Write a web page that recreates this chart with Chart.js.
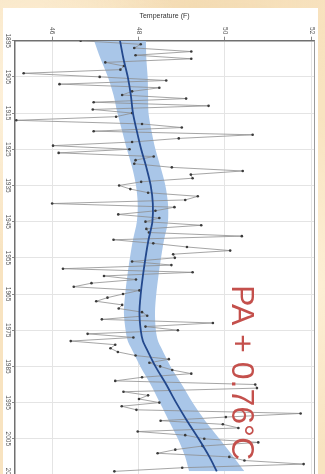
<!DOCTYPE html>
<html>
<head>
<meta charset="utf-8">
<script src="https://cdn.jsdelivr.net/npm/chart.js@4.4.1/dist/chart.umd.min.js"></script>
<style>
  html, body { margin: 0; padding: 0; width: 325px; height: 474px; overflow: hidden; }
  body {
    background:
      radial-gradient(circle at 10% 20%, rgba(255, 246, 228, 0.8), rgba(255, 246, 228, 0) 35%),
      radial-gradient(circle at 95% 60%, rgba(255, 244, 222, 0.7), rgba(255, 244, 222, 0) 40%),
      radial-gradient(circle at 60% 2%, rgba(240, 214, 170, 0.6), rgba(240, 214, 170, 0) 30%),
      #f8e3c0;
  }
  #panel { position: absolute; left: 3px; top: 8px; width: 315px; height: 490px; background: #fff; }
  canvas { display: block; }
</style>
</head>
<body>
<div id="panel"><canvas id="chart" width="315" height="490"></canvas></div>
<script>
// Annual mean temperature, Pennsylvania (°F)
const years = [
  1895,1896,1897,1898,1899,1900,1901,1902,1903,1904,1905,1906,1907,1908,1909,1910,1911,1912,1913,1914,
  1915,1916,1917,1918,1919,1920,1921,1922,1923,1924,1925,1926,1927,1928,1929,1930,1931,1932,1933,1934,
  1935,1936,1937,1938,1939,1940,1941,1942,1943,1944,1945,1946,1947,1948,1949,1950,1951,1952,1953,1954,
  1955,1956,1957,1958,1959,1960,1961,1962,1963,1964,1965,1966,1967,1968,1969,1970,1971,1972,1973,1974,
  1975,1976,1977,1978,1979,1980,1981,1982,1983,1984,1985,1986,1987,1988,1989,1990,1991,1992,1993,1994,
  1995,1996,1997,1998,1999,2000,2001,2002,2003,2004,2005,2006,2007,2008,2009,2010,2011,2012,2013,2014
];
const annualTemp = [
  46.66,48.05,47.90,49.22,47.93,49.22,47.23,47.66,47.58,45.34,47.10,48.64,46.17,48.48,47.85,47.62,49.10,46.96,49.62,46.94,
  47.85,47.48,45.17,48.08,49.00,46.96,50.64,48.93,47.85,46.02,47.79,46.15,48.35,47.93,47.90,48.77,50.41,49.21,49.25,48.06,
  47.55,47.81,48.22,49.37,49.08,46.00,48.83,48.39,47.53,48.48,48.16,49.45,48.18,48.24,50.39,47.42,48.34,49.12,50.12,48.80,
  48.84,47.85,48.76,46.25,49.25,47.20,47.94,46.91,46.50,48.02,47.64,47.28,47.02,47.62,47.54,48.08,48.20,47.15,49.72,48.16,
  48.91,46.82,47.88,46.43,47.46,47.35,47.52,47.93,48.70,48.25,48.50,48.78,49.22,48.08,47.46,50.70,50.74,47.65,48.22,48.01,
  48.48,47.61,47.95,51.75,50.02,48.51,49.95,50.31,47.98,49.08,49.52,50.77,49.48,48.85,48.44,50.10,50.45,51.82,49.01,47.44
];

// Smoothed trend and its confidence band
const fitYears = [1895,1900,1905,1910,1915,1920,1925,1930,1935,1940,1945,1950,1955,1960,1965,1970,1975,1978,1980,1985,1990,1995,2000,2005,2010,2014];
const fitTemp  = [47.57,47.65,47.75,47.82,47.87,47.96,48.06,48.18,48.28,48.33,48.32,48.23,48.16,48.10,48.05,48.02,48.05,48.10,48.18,48.39,48.64,48.87,49.12,49.39,49.64,49.81];
const bandUpper = [48.17,48.18,48.21,48.22,48.23,48.30,48.39,48.51,48.62,48.68,48.68,48.59,48.52,48.46,48.41,48.38,48.40,48.45,48.53,48.74,49.00,49.25,49.54,49.87,50.20,50.45];
const bandLower = [46.97,47.12,47.29,47.42,47.51,47.62,47.73,47.85,47.94,47.98,47.96,47.87,47.80,47.74,47.69,47.66,47.70,47.75,47.83,48.04,48.28,48.49,48.70,48.91,49.08,49.17];

const yearTicks = [1895,1905,1915,1925,1935,1945,1955,1965,1975,1985,1995,2005,2015];
const tempTicks = [46,48,50,52];
const changeLabel = 'PA + 0.76°C';

const FONT = "'Liberation Sans', Arial, sans-serif";

function toPoints(temps, yrs) {
  return yrs.map((y, i) => ({ x: temps[i], y: y }));
}

// Temperature tick labels, turned to read top-to-bottom
const tempTickLabels = {
  id: 'tempTickLabels',
  afterDraw(chart) {
    const s = chart.scales.x;
    const ctx = chart.ctx;
    ctx.save();
    ctx.fillStyle = '#555';
    ctx.font = '6.5px ' + FONT;
    ctx.textAlign = 'center';
    ctx.textBaseline = 'middle';
    s.ticks.forEach(t => {
      ctx.save();
      ctx.translate(s.getPixelForValue(t.value), s.bottom - 10);
      ctx.rotate(Math.PI / 2);
      ctx.fillText(String(t.value), 0, 0);
      ctx.restore();
    });
    ctx.restore();
  }
};

// Frame line on the far side of the plot
const plotFrame = {
  id: 'plotFrame',
  beforeDatasetsDraw(chart) {
    const a = chart.chartArea;
    const ctx = chart.ctx;
    ctx.save();
    ctx.strokeStyle = '#9a9a9a';
    ctx.lineWidth = 1;
    ctx.beginPath();
    ctx.moveTo(a.right + 0.5, a.top);
    ctx.lineTo(a.right + 0.5, a.bottom);
    ctx.stroke();
    ctx.restore();
  }
};

// Overall change caption
const changeCaption = {
  id: 'changeCaption',
  afterDraw(chart) {
    const ctx = chart.ctx;
    ctx.save();
    ctx.translate(240.5, 364.5);
    ctx.rotate(Math.PI / 2);
    ctx.fillStyle = '#c4504c';
    ctx.font = '32px ' + FONT;
    ctx.textAlign = 'center';
    ctx.textBaseline = 'alphabetic';
    ctx.fillText(changeLabel, 0, 11.5);
    ctx.restore();
  }
};

new Chart(document.getElementById('chart'), {
  type: 'line',
  data: {
    datasets: [
      {
        label: 'Trend',
        data: toPoints(fitTemp, fitYears),
        borderColor: '#23488c',
        borderWidth: 1.8,
        pointRadius: 0,
        tension: 0.3,
        fill: false
      },
      {
        label: 'Annual mean',
        data: toPoints(annualTemp, years),
        borderColor: '#8e8e8e',
        borderWidth: 0.8,
        pointRadius: 1.3,
        pointBackgroundColor: '#3a3a3a',
        pointBorderWidth: 0,
        tension: 0,
        fill: false
      },
      {
        label: 'Band upper',
        data: toPoints(bandUpper, fitYears),
        borderWidth: 0,
        borderColor: 'rgba(0,0,0,0)',
        pointRadius: 0,
        backgroundColor: '#a9c6e8',
        tension: 0.3,
        fill: '+1'
      },
      {
        label: 'Band lower',
        data: toPoints(bandLower, fitYears),
        borderWidth: 0,
        borderColor: 'rgba(0,0,0,0)',
        pointRadius: 0,
        tension: 0.3,
        fill: false
      }
    ]
  },
  options: {
    indexAxis: 'y',
    responsive: false,
    animation: false,
    devicePixelRatio: 1,
    layout: { padding: { left: 0, top: 0, right: 3, bottom: 19.4 } },
    plugins: { legend: { display: false }, tooltip: { enabled: false } },
    scales: {
      x: {
        type: 'linear',
        position: 'top',
        min: 45.14,
        max: 52.06,
        afterBuildTicks: s => { s.ticks = tempTicks.map(v => ({ value: v })); },
        afterFit: s => { s.height = 32.7; },
        ticks: { display: false },
        grid: { color: '#e4e4e4', lineWidth: 1, drawTicks: true, tickLength: 4, tickColor: '#8a8a8a' },
        border: { display: true, color: '#707070', width: 1.5 },
        title: {
          display: true,
          text: 'Temperature (F)',
          color: '#333',
          font: { size: 7, family: FONT },
          padding: { top: 3.5, bottom: 0 }
        }
      },
      y: {
        type: 'linear',
        position: 'left',
        reverse: true,
        min: 1895,
        max: 2016,
        afterBuildTicks: s => { s.ticks = yearTicks.map(v => ({ value: v })); },
        afterFit: s => { s.width = 12; },
        ticks: {
          autoSkip: false,
          minRotation: -90,
          maxRotation: -90,
          crossAlign: 'center',
          padding: -3.05,
          color: '#555',
          font: { size: 6.5, family: FONT },
          callback: v => String(v)
        },
        grid: { color: '#e4e4e4', lineWidth: 1, drawTicks: true, tickLength: 3, tickColor: '#8a8a8a' },
        border: { display: true, color: '#707070', width: 1.5 }
      }
    }
  },
  plugins: [plotFrame, tempTickLabels, changeCaption]
});
</script>
</body>
</html>
